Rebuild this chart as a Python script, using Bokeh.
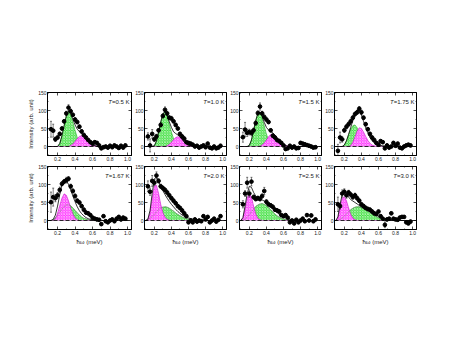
from bokeh.plotting import figure
from bokeh.layouts import column, row
from bokeh.models import (ColumnDataSource, FixedTicker, LinearAxis, Range1d,
                          Label, Whisker, TeeHead, Span, PrintfTickFormatter,
                          CustomLabelingPolicy)
from bokeh.embed import file_html
from bokeh.resources import INLINE

# ---------------- data ----------------
TEMPS = ["0.5", "1.0", "1.5", "1.75", "1.67", "2.0", "2.5", "3.0"]
X_TICKS = [0.2, 0.4, 0.6, 0.8, 1.0]
X_MINOR = [0.1, 0.3, 0.5, 0.7, 0.9]
Y_TICKS = [0, 50, 100, 150]
Y_MINOR = [-25, 25, 75, 125]
XMIN, XMAX = 0.085, 1.045
YMIN, YMAX = -25, 150

# energy grid of the fitted curves (meV)
CX = [0.100, 0.125, 0.150, 0.175, 0.200, 0.225, 0.250, 0.275, 0.300, 0.325,
      0.350, 0.375, 0.400, 0.425, 0.450, 0.475, 0.500, 0.525, 0.550, 0.575,
      0.600, 0.650, 0.700, 0.800, 0.900, 1.000]
# energy of the data points (meV)
PX = [0.125, 0.150, 0.175, 0.200, 0.225, 0.250, 0.275, 0.300, 0.325, 0.350,
      0.375, 0.400, 0.425, 0.450, 0.475, 0.500, 0.525, 0.550, 0.575, 0.600,
      0.625, 0.650, 0.675, 0.700, 0.725, 0.750, 0.775, 0.800, 0.825, 0.850,
      0.875, 0.900, 0.925, 0.950, 0.975]

# green component, magenta component, total fit
G1 = [0, 0, 0, 0, 0, 8, 30, 58, 85, 98, 88, 68, 45, 25, 13, 6, 3, 1, 0, 0, 0, 0, 0, 0, 0, 0]
M1 = [0, 0, 0, 0, 0, 0, 0, 0, 0, 0, 3, 7, 14, 22, 28, 30, 27, 21, 14, 8, 4, 1, 0, 0, 0, 0]
T1 = [0, 0, 0, 0, 0, 8, 30, 58, 85, 99, 92, 76, 60, 48, 41, 36, 30, 22, 14, 8, 4, 1, 0, 0, 0, 0]

G2 = [0, 0, 0, 0, 2, 15, 40, 68, 90, 97, 85, 62, 40, 22, 11, 5, 2, 1, 0, 0, 0, 0, 0, 0, 0, 0]
M2 = [0, 0, 0, 0, 0, 0, 0, 0, 0, 0, 2, 6, 12, 19, 25, 27, 25, 19, 12, 7, 3, 1, 0, 0, 0, 0]
T2 = [0, 0, 0, 0, 2, 15, 40, 68, 90, 98, 88, 69, 53, 41, 36, 32, 27, 20, 12, 7, 3, 1, 0, 0, 0, 0]

G3 = [0, 0, 0, 0, 3, 18, 45, 72, 92, 95, 80, 57, 35, 19, 9, 4, 2, 1, 0, 0, 0, 0, 0, 0, 0, 0]
M3 = [0, 0, 0, 0, 0, 0, 0, 0, 0, 1, 4, 10, 18, 27, 33, 34, 30, 23, 15, 9, 5, 1, 0, 0, 0, 0]
T3 = [0, 0, 0, 0, 3, 18, 45, 72, 92, 96, 84, 67, 53, 46, 42, 38, 32, 24, 15, 9, 5, 1, 0, 0, 0, 0]

G4 = [0, 0, 0, 0, 4, 15, 32, 48, 58, 60, 52, 38, 24, 13, 6, 3, 1, 0, 0, 0, 0, 0, 0, 0, 0, 0]
M4 = [0, 0, 0, 0, 0, 0, 0, 3, 12, 27, 43, 52, 50, 40, 28, 17, 9, 4, 2, 1, 0, 0, 0, 0, 0, 0]
T4 = [0, 0, 0, 0, 4, 16, 34, 53, 72, 89, 100, 100, 88, 70, 52, 38, 25, 16, 10, 6, 4, 2, 1, 0, 0, 0]

G5 = [0, 0, 2, 7, 14, 23, 32, 39, 43, 44, 41, 35, 28, 21, 15, 10, 6, 4, 2, 1, 0, 0, 0, 0, 0, 0]
M5 = [0, 0, 0, 5, 20, 42, 62, 74, 70, 55, 35, 18, 7, 2, 0, 0, 0, 0, 0, 0, 0, 0, 0, 0, 0, 0]
T5 = [0, 0, 3, 15, 40, 72, 100, 114, 112, 100, 85, 68, 52, 38, 27, 19, 13, 8, 5, 3, 2, 1, 0, 0, 0, 0]

G6 = [0, 2, 6, 11, 17, 24, 30, 35, 37, 38, 37, 34, 30, 26, 21, 17, 13, 10, 7, 5, 4, 2, 1, 0, 0, 0]
M6 = [0, 2, 20, 60, 95, 98, 75, 45, 22, 9, 3, 1, 0, 0, 0, 0, 0, 0, 0, 0, 0, 0, 0, 0, 0, 0]
T6 = [0, 4, 28, 75, 115, 122, 108, 95, 83, 72, 62, 53, 45, 38, 31, 25, 20, 15, 12, 9, 7, 4, 2, 0, 0, 0]

G7 = [0, 1, 4, 9, 16, 24, 32, 39, 43, 46, 47, 45, 41, 36, 30, 24, 18, 13, 9, 6, 4, 2, 1, 0, 0, 0]
M7 = [0, 5, 30, 62, 75, 65, 40, 18, 6, 2, 0, 0, 0, 0, 0, 0, 0, 0, 0, 0, 0, 0, 0, 0, 0, 0]
T7 = [0, 8, 40, 75, 95, 92, 78, 68, 63, 60, 57, 54, 50, 45, 40, 34, 28, 22, 17, 13, 10, 5, 2, 0, 0, 0]

G8 = [0, 1, 3, 7, 12, 18, 24, 30, 34, 37, 38, 38, 36, 33, 30, 26, 22, 18, 14, 11, 8, 4, 2, 0, 0, 0]
M8 = [0, 6, 35, 62, 66, 55, 35, 17, 6, 2, 0, 0, 0, 0, 0, 0, 0, 0, 0, 0, 0, 0, 0, 0, 0, 0]
T8 = [0, 10, 45, 72, 80, 75, 65, 58, 54, 50, 46, 42, 38, 34, 31, 28, 25, 21, 18, 15, 12, 7, 4, 0, 0, 0]

# measured intensities and error bars
P1 = [48, 44, 20, 25, 35, 50, 70, 92, 108, 98, 88, 75, 68, 55, 42, 32, 25, 18, 12, 8, 12, 10, 3, -5, -2, 0, -3, 2, -2, 3, 0, -4, 2, -3, 3]
E1 = [22, 18, 6, 5, 5, 5, 5, 6, 8, 6, 5, 5, 5, 5, 5, 5, 5, 4, 4, 4, 4, 4, 4, 4, 4, 4, 4, 4, 4, 4, 4, 4, 4, 4, 4]
P2 = [28, 3, 35, 20, 28, 45, 60, 85, 102, 92, 80, 78, 70, 60, 50, 35, 28, 22, 12, 10, 8, 5, 0, 2, -3, 0, 3, -2, 8, -3, -5, 0, -5, -3, 2]
E2 = [10, 18, 12, 6, 6, 5, 6, 6, 8, 6, 6, 6, 5, 5, 5, 5, 5, 5, 4, 4, 4, 4, 4, 4, 4, 4, 4, 4, 4, 4, 4, 4, 4, 4, 4]
P3 = [26, 47, 38, 40, 38, 45, 65, 93, 111, 92, 82, 75, 68, 45, 30, 25, 18, 15, 10, 3, -7, -5, 2, -3, 0, -5, -4, 10, 8, 6, 4, 2, 0, -3, -2]
E3 = [14, 20, 10, 8, 8, 6, 6, 6, 10, 6, 6, 6, 5, 5, 5, 5, 5, 5, 4, 4, 4, 4, 4, 4, 4, 4, 4, 4, 4, 4, 4, 4, 4, 4, 4]
P4 = [-12, 25, 20, 45, 55, 62, 70, 80, 90, 95, 105, 95, 80, 62, 48, 35, 25, 18, 10, 5, 15, 12, -5, 3, -3, 0, 10, 2, 8, -3, -5, 0, 3, 5, 3]
E4 = [18, 15, 8, 6, 6, 6, 6, 6, 6, 6, 6, 6, 5, 5, 5, 5, 5, 5, 4, 4, 4, 4, 4, 4, 4, 4, 4, 4, 4, 4, 4, 4, 4, 4, 4]
P5 = [51, 65, 62, 70, 85, 102, 108, 112, 116, 95, 82, 68, 55, 50, 40, 30, 22, 20, 15, 8, 5, 3, 2, -10, 12, -2, -5, 0, 3, -2, 5, 10, 3, 8, 5]
E5 = [28, 25, 10, 8, 8, 6, 6, 8, 6, 6, 6, 6, 5, 5, 5, 5, 5, 5, 4, 4, 4, 4, 4, 4, 4, 4, 4, 4, 4, 4, 4, 4, 4, 4, 4]
P6 = [95, 80, 110, 105, 125, 110, 95, 90, 85, 78, 70, 62, 55, 48, 40, 35, 28, 20, 12, -5, 0, -5, 3, -3, 0, -2, 12, 3, 10, -5, 0, 5, -3, 2, 12]
E6 = [15, 10, 15, 8, 10, 6, 6, 6, 6, 6, 5, 5, 5, 5, 5, 5, 5, 5, 4, 4, 4, 4, 4, 4, 4, 4, 4, 4, 4, 4, 4, 4, 4, 4, 4]
P7 = [45, 75, 105, 75, 108, 65, 60, 62, 60, 68, 82, 52, 45, 42, 38, 30, 28, 25, 15, 12, 15, 8, -5, 0, -8, 2, -5, 0, 5, -2, 15, 0, 14, -2, 3]
E7 = [10, 8, 15, 10, 12, 6, 6, 6, 6, 6, 10, 6, 5, 5, 5, 5, 5, 5, 4, 4, 4, 4, 4, 4, 4, 4, 4, 4, 4, 4, 4, 4, 4, 4, 4]
P8 = [45, 40, 75, 80, 70, 78, 72, 65, 70, 62, 55, 45, 40, 35, 32, 30, 25, 20, 18, 25, 12, 5, -12, 3, 5, 20, 5, 3, 2, 8, 10, 10, -5, -8, -3]
E8 = [20, 8, 10, 8, 8, 6, 6, 6, 6, 6, 5, 5, 5, 5, 5, 5, 5, 5, 4, 4, 4, 4, 8, 4, 4, 4, 4, 4, 4, 4, 4, 4, 4, 4, 4]

GREENS = [G1, G2, G3, G4, G5, G6, G7, G8]
MAGENTAS = [M1, M2, M3, M4, M5, M6, M7, M8]
TOTALS = [T1, T2, T3, T4, T5, T6, T7, T8]
POINTS = [P1, P2, P3, P4, P5, P6, P7, P8]
ERRORS = [E1, E2, E3, E4, E5, E6, E7, E8]

# ---------------- style ----------------
FONT = "Liberation Sans"
TICK_FS = 5
LAB_FS = 6
TXT_FS = 6
CHAR_W = {"=": 0.584, ".": 0.278, " ": 0.278, "K": 0.667}
FRAME_W = 84
PAGE_PAD = 8   # the page template has no body margin: emulate the 8px one


def text_w(s, fs):
    return sum(CHAR_W.get(ch, 0.556) for ch in s) * fs


NO_LABELS = CustomLabelingPolicy(code="""
for (const i of indices) indices.unset(i)
return indices
""")


def style_axis(ax, ticks, minor, show):
    ax.ticker = FixedTicker(ticks=ticks, minor_ticks=minor)
    ax.major_tick_in = 3
    ax.major_tick_out = 0
    ax.minor_tick_in = 1
    ax.minor_tick_out = 0
    ax.major_tick_line_width = 0.7
    ax.minor_tick_line_width = 0.6
    ax.axis_line_width = 1
    ax.axis_line_color = "black"
    ax.major_label_text_font = FONT
    ax.major_label_text_color = "#222222"
    if show:
        ax.major_label_text_font_size = f"{TICK_FS}px"
        ax.major_label_standoff = 1
    else:
        ax.major_label_text_font_size = "0px"
        ax.major_label_standoff = 0
        ax.major_label_policy = NO_LABELS
    ax.axis_label_text_font = FONT
    ax.axis_label_text_font_size = f"{LAB_FS}px"
    ax.axis_label_text_font_style = "normal"
    ax.axis_label_text_color = "#222222"
    ax.axis_label_standoff = 1


def make_panel(i):
    r, c = divmod(i, 4)
    left = (39 + PAGE_PAD) if c == 0 else 10
    right = 1
    if r == 0:
        top, bottom, fh = 84 + PAGE_PAD, 7, 64
    else:
        top, bottom, fh = 3, 20, 63
    p = figure(width=left + FRAME_W + right, height=top + fh + bottom,
               x_range=Range1d(XMIN, XMAX), y_range=Range1d(YMIN, YMAX),
               output_backend="svg", toolbar_location=None,
               min_border_left=left, min_border_right=right,
               min_border_top=top, min_border_bottom=bottom)
    p.xgrid.visible = False
    p.ygrid.visible = False
    p.outline_line_color = "black"
    p.outline_line_width = 1
    p.background_fill_color = "white"
    p.border_fill_color = "white"

    style_axis(p.xaxis[0], X_TICKS, X_MINOR, True)
    p.xaxis[0].formatter = PrintfTickFormatter(format="%.1f")
    style_axis(p.yaxis[0], Y_TICKS, Y_MINOR, True)
    if r == 1:
        p.xaxis[0].axis_label = "ħω (meV)"
    if c == 0:
        p.yaxis[0].axis_label = "Intensity (arb. unit)"
    ax_top = LinearAxis()
    style_axis(ax_top, X_TICKS, X_MINOR, False)
    p.add_layout(ax_top, "above")
    ax_right = LinearAxis()
    style_axis(ax_right, Y_TICKS, Y_MINOR, False)
    p.add_layout(ax_right, "right")

    G, M, T = GREENS[i], MAGENTAS[i], TOTALS[i]
    P, E = POINTS[i], ERRORS[i]
    csrc = ColumnDataSource(dict(x=CX, g=G, m=M, t=T))

    p.varea(x="x", y1=0, y2="g", source=csrc, fill_color="#44e044",
            hatch_pattern="diagonal_cross", hatch_color="white",
            hatch_scale=2.6, hatch_weight=0.6, hatch_alpha=0.8)
    p.line("x", "g", source=csrc, line_color="#229922", line_width=0.5)
    p.varea(x="x", y1=0, y2="m", source=csrc, fill_color="#ff3cff",
            hatch_pattern="diagonal_cross", hatch_color="white",
            hatch_scale=2.6, hatch_weight=0.6, hatch_alpha=0.8)
    p.line("x", "m", source=csrc, line_color="#bb00bb", line_width=0.5)
    if r == 1:
        p.line("x", "g", source=csrc, line_color="#888888", line_width=0.7,
               line_dash="2 1")
    p.add_layout(Span(location=0, dimension="width", line_color="black",
                      line_width=0.8, line_dash="4 2"))
    p.line("x", "t", source=csrc, line_color="black", line_width=0.8)

    psrc = ColumnDataSource(dict(x=PX, y=P,
                                 lo=[a - b for a, b in zip(P, E)],
                                 hi=[a + b for a, b in zip(P, E)]))
    p.add_layout(Whisker(source=psrc, base="x", lower="lo", upper="hi",
                         line_color="black", line_width=0.5,
                         upper_head=TeeHead(size=2, line_width=0.5),
                         lower_head=TeeHead(size=2, line_width=0.5),
                         level="glyph"))
    p.scatter("x", "y", source=psrc, size=3.7, color="black")

    rest = f"={TEMPS[i]} K"
    w = text_w(rest, TXT_FS)
    p.add_layout(Label(x=XMAX, y=125, x_offset=-2, text=rest,
                       text_align="right", text_baseline="middle",
                       text_font=FONT, text_font_size=f"{TXT_FS}px",
                       text_color="#222222"))
    p.add_layout(Label(x=XMAX, y=125, x_offset=-2 - w, text="T",
                       text_align="right", text_baseline="middle",
                       text_font=FONT, text_font_size=f"{TXT_FS}px",
                       text_font_style="italic", text_color="#222222"))
    return p


panels = [make_panel(i) for i in range(8)]
layout = column(row(*panels[:4]), row(*panels[4:]))

open("out.html", "w").write(file_html(layout, INLINE))
